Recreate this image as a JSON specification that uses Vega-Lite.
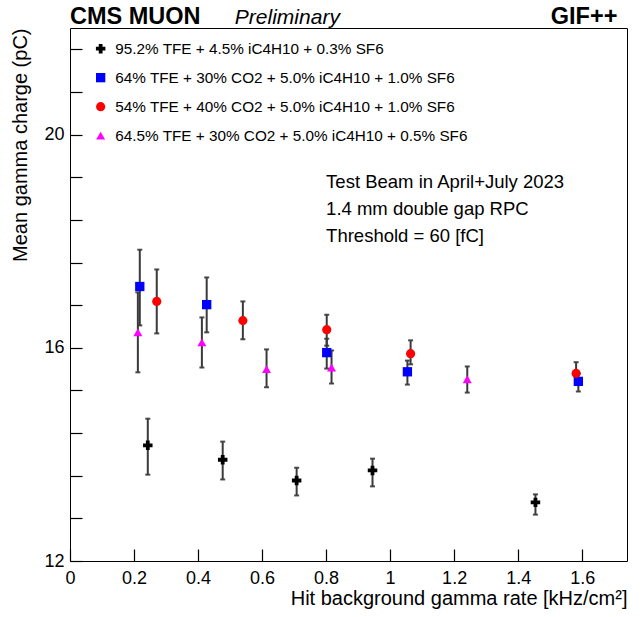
{
  "$schema": "https://vega.github.io/schema/vega-lite/v6.json",
  "width": 557,
  "height": 533,
  "autosize": "none",
  "padding": {"left": 70, "top": 28, "right": 17, "bottom": 56},
  "background": "white",
  "config": {
    "font": "Liberation Sans",
    "view": {"stroke": "black", "strokeWidth": 1},
    "axis": {"domain": false, "grid": false, "labelColor": "black", "titleColor": "black", "labelFont": "Liberation Sans", "titleFont": "Liberation Sans", "titleFontWeight": "normal"}
  },
  "datasets": {
    "pts": [
      {"series": "95.2% TFE + 4.5% iC4H10 + 0.3% SF6", "x": 0.243, "y": 14.17, "lo": 13.62, "hi": 14.67},
      {"series": "95.2% TFE + 4.5% iC4H10 + 0.3% SF6", "x": 0.477, "y": 13.90, "lo": 13.53, "hi": 14.24},
      {"series": "95.2% TFE + 4.5% iC4H10 + 0.3% SF6", "x": 0.708, "y": 13.51, "lo": 13.23, "hi": 13.75},
      {"series": "95.2% TFE + 4.5% iC4H10 + 0.3% SF6", "x": 0.945, "y": 13.70, "lo": 13.40, "hi": 13.92},
      {"series": "95.2% TFE + 4.5% iC4H10 + 0.3% SF6", "x": 1.454, "y": 13.10, "lo": 12.87, "hi": 13.25},
      {"series": "64% TFE + 30% CO2 + 5.0% iC4H10 + 1.0% SF6", "x": 0.218, "y": 17.15, "lo": 16.42, "hi": 17.84},
      {"series": "64% TFE + 30% CO2 + 5.0% iC4H10 + 1.0% SF6", "x": 0.427, "y": 16.81, "lo": 16.29, "hi": 17.32},
      {"series": "64% TFE + 30% CO2 + 5.0% iC4H10 + 1.0% SF6", "x": 0.802, "y": 15.91, "lo": 15.61, "hi": 16.17},
      {"series": "64% TFE + 30% CO2 + 5.0% iC4H10 + 1.0% SF6", "x": 1.054, "y": 15.55, "lo": 15.31, "hi": 15.76},
      {"series": "64% TFE + 30% CO2 + 5.0% iC4H10 + 1.0% SF6", "x": 1.588, "y": 15.37, "lo": 15.18, "hi": 15.52},
      {"series": "54% TFE + 40% CO2 + 5.0% iC4H10 + 1.0% SF6", "x": 0.271, "y": 16.87, "lo": 16.27, "hi": 17.47},
      {"series": "54% TFE + 40% CO2 + 5.0% iC4H10 + 1.0% SF6", "x": 0.540, "y": 16.51, "lo": 16.16, "hi": 16.87},
      {"series": "54% TFE + 40% CO2 + 5.0% iC4H10 + 1.0% SF6", "x": 0.802, "y": 16.34, "lo": 16.04, "hi": 16.62},
      {"series": "54% TFE + 40% CO2 + 5.0% iC4H10 + 1.0% SF6", "x": 1.064, "y": 15.89, "lo": 15.69, "hi": 16.14},
      {"series": "54% TFE + 40% CO2 + 5.0% iC4H10 + 1.0% SF6", "x": 1.581, "y": 15.52, "lo": 15.46, "hi": 15.73},
      {"series": "64.5% TFE + 30% CO2 + 5.0% iC4H10 + 0.5% SF6", "x": 0.212, "y": 16.29, "lo": 15.54, "hi": 17.04},
      {"series": "64.5% TFE + 30% CO2 + 5.0% iC4H10 + 0.5% SF6", "x": 0.412, "y": 16.10, "lo": 15.63, "hi": 16.57},
      {"series": "64.5% TFE + 30% CO2 + 5.0% iC4H10 + 0.5% SF6", "x": 0.614, "y": 15.60, "lo": 15.26, "hi": 15.97},
      {"series": "64.5% TFE + 30% CO2 + 5.0% iC4H10 + 0.5% SF6", "x": 0.817, "y": 15.63, "lo": 15.33, "hi": 15.95},
      {"series": "64.5% TFE + 30% CO2 + 5.0% iC4H10 + 0.5% SF6", "x": 1.241, "y": 15.41, "lo": 15.16, "hi": 15.65}
    ],
    "boldL": [
      {"x": 0.0, "y": 22.08, "text": "CMS MUON"}
    ],
    "boldR": [
      {"x": 1.71, "y": 22.08, "text": "GIF++"}
    ],
    "ital": [
      {"x": 0.515, "y": 22.08, "text": "Preliminary"}
    ],
    "notes": [
      {"x": 0.80, "y": 19.0, "text": "Test Beam in April+July 2023"},
      {"x": 0.80, "y": 18.5, "text": "1.4 mm double gap RPC"},
      {"x": 0.80, "y": 17.98, "text": "Threshold = 60 [fC]"}
    ]
  },
  "layer": [
    {
      "data": {"name": "pts"},
      "mark": {"type": "errorbar", "ticks": {"size": 5, "color": "black", "strokeWidth": 1.5}, "rule": {"color": "#3a3a3a", "strokeWidth": 2}, "color": "#3a3a3a", "thickness": 2},
      "encoding": {
        "x": {"field": "x", "type": "quantitative", "scale": {"domain": [0, 1.74], "nice": false, "zero": false},
          "axis": {"orient": "bottom", "values": [0, 0.05, 0.1, 0.15, 0.2, 0.25, 0.3, 0.35, 0.4, 0.45, 0.5, 0.55, 0.6, 0.65, 0.7, 0.75, 0.8, 0.85, 0.9, 0.95, 1, 1.05, 1.1, 1.15, 1.2, 1.25, 1.3, 1.35, 1.4, 1.45, 1.5, 1.55, 1.6, 1.65, 1.7], "format": "~g", "labelExpr": "abs(datum.value*5 - round(datum.value*5)) < 0.001 ? datum.label : ''", "labelOverlap": false, "labelFlush": false, "offset": -12, "tickSize": 12, "tickColor": "black", "tickWidth": 1.2, "labelFontSize": 18, "labelPadding": 8, "title": "Hit background gamma rate [kHz/cm²]", "titleFontSize": 20, "titleAnchor": "end", "titleAlign": "right", "titlePadding": 1}},
        "y": {"field": "lo", "type": "quantitative", "scale": {"domain": [12, 22], "nice": false, "zero": false},
          "axis": {"orient": "left", "values": [12, 12.2, 12.4, 12.6, 12.8, 13, 13.2, 13.4, 13.6, 13.8, 14, 14.2, 14.4, 14.6, 14.8, 15, 15.2, 15.4, 15.6, 15.8, 16, 16.2, 16.4, 16.6, 16.8, 17, 17.2, 17.4, 17.6, 17.8, 18, 18.2, 18.4, 18.6, 18.8, 19, 19.2, 19.4, 19.6, 19.8, 20, 20.2, 20.4, 20.6, 20.8, 21, 21.2, 21.4, 21.6, 21.8, 22], "format": "~g", "labelExpr": "abs(datum.value - round(datum.value)) < 0.001 ? datum.label : ''", "labelOverlap": false, "labelFlush": false, "offset": -12, "tickSize": 12, "tickColor": "black", "tickWidth": 1.2, "labelFontSize": 18, "labelPadding": 6, "title": "Mean gamma charge (pC)", "titleFontSize": 20, "titleAnchor": "end", "titlePadding": 13}},
        "y2": {"field": "hi"}
      }
    },
    {
      "data": {"name": "pts"},
      "mark": {"type": "point", "filled": true, "opacity": 1},
      "encoding": {
        "x": {"field": "x", "type": "quantitative"},
        "y": {"field": "y", "type": "quantitative"},
        "shape": {"field": "series", "type": "nominal", "scale": {"domain": ["95.2% TFE + 4.5% iC4H10 + 0.3% SF6", "64% TFE + 30% CO2 + 5.0% iC4H10 + 1.0% SF6", "54% TFE + 40% CO2 + 5.0% iC4H10 + 1.0% SF6", "64.5% TFE + 30% CO2 + 5.0% iC4H10 + 0.5% SF6"], "range": ["cross", "square", "circle", "triangle-up"]},
          "legend": {"orient": "none", "legendX": 23, "legendY": 13, "title": null, "labelFontSize": 15.3, "labelFont": "Liberation Sans", "labelColor": "black", "labelLimit": 0, "rowPadding": 13, "labelOffset": 7, "padding": 0, "symbolStrokeWidth": 0}},
        "color": {"field": "series", "type": "nominal", "scale": {"domain": ["95.2% TFE + 4.5% iC4H10 + 0.3% SF6", "64% TFE + 30% CO2 + 5.0% iC4H10 + 1.0% SF6", "54% TFE + 40% CO2 + 5.0% iC4H10 + 1.0% SF6", "64.5% TFE + 30% CO2 + 5.0% iC4H10 + 0.5% SF6"], "range": ["#000000", "#0000ff", "#ff0000", "#ff00ff"]}},
        "size": {"field": "series", "type": "nominal", "scale": {"domain": ["95.2% TFE + 4.5% iC4H10 + 0.3% SF6", "64% TFE + 30% CO2 + 5.0% iC4H10 + 1.0% SF6", "54% TFE + 40% CO2 + 5.0% iC4H10 + 1.0% SF6", "64.5% TFE + 30% CO2 + 5.0% iC4H10 + 0.5% SF6"], "range": [90, 81, 80, 56]}}
      }
    },
    {
      "data": {"name": "boldL"},
      "mark": {"type": "text", "font": "Liberation Sans", "fontWeight": "bold", "fontSize": 23.5, "baseline": "alphabetic", "align": "left", "color": "black"},
      "encoding": {
        "x": {"field": "x", "type": "quantitative"},
        "y": {"field": "y", "type": "quantitative"},
        "text": {"field": "text"}
      }
    },
    {
      "data": {"name": "boldR"},
      "mark": {"type": "text", "font": "Liberation Sans", "fontWeight": "bold", "fontSize": 23.5, "baseline": "alphabetic", "align": "right", "color": "black"},
      "encoding": {
        "x": {"field": "x", "type": "quantitative"},
        "y": {"field": "y", "type": "quantitative"},
        "text": {"field": "text"}
      }
    },
    {
      "data": {"name": "ital"},
      "mark": {"type": "text", "font": "Liberation Sans", "fontStyle": "italic", "fontSize": 21, "baseline": "alphabetic", "align": "left", "color": "black"},
      "encoding": {
        "x": {"field": "x", "type": "quantitative"},
        "y": {"field": "y", "type": "quantitative"},
        "text": {"field": "text"}
      }
    },
    {
      "data": {"name": "notes"},
      "mark": {"type": "text", "font": "Liberation Sans", "fontSize": 18.5, "baseline": "alphabetic", "align": "left", "color": "black"},
      "encoding": {
        "x": {"field": "x", "type": "quantitative"},
        "y": {"field": "y", "type": "quantitative"},
        "text": {"field": "text"}
      }
    }
  ]
}
